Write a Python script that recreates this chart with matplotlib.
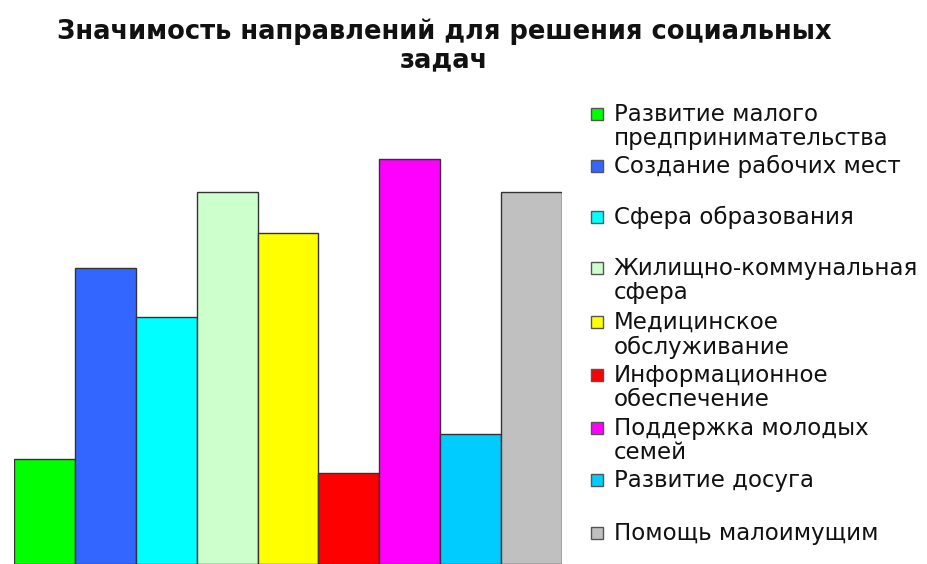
import matplotlib
matplotlib.use("Agg")
import matplotlib.pyplot as plt
from matplotlib.patches import Rectangle

# data (relative importance)
categories = [
    "Развитие малого\nпредпринимательства",
    "Создание рабочих мест",
    "Сфера образования",
    "Жилищно-коммунальная\nсфера",
    "Медицинское\nобслуживание",
    "Информационное\nобеспечение",
    "Поддержка молодых\nсемей",
    "Развитие досуга",
    "Помощь малоимущим",
]
values = [10.5, 29.6, 24.7, 37.2, 33.1, 9.1, 40.5, 13.0, 37.2]
colors = ["#00FF00", "#3366FF", "#00FFFF", "#CCFFCC", "#FFFF00",
          "#FF0000", "#FF00FF", "#00CCFF", "#C0C0C0"]
title = "Значимость направлений для решения социальных\nзадач"

W, H = 928, 564
fig = plt.figure(figsize=(W / 100, H / 100), dpi=100)

# axes spans bar area, bottom cropped at figure edge
ax = fig.add_axes([14 / W, 0, 548 / W, 424 / H])
x = range(len(values))
ax.bar(x, values, width=1.0, color=colors, edgecolor="#333333", linewidth=1.0)
ax.set_xlim(-0.5, len(values) - 0.5)
ax.set_ylim(0, 42.4)
ax.axis("off")

fig.text(444 / W, 1 - 46 / H, title, ha="center", va="center",
         fontsize=18.5, fontweight="bold", family="DejaVu Sans", linespacing=1.1,
         color="#111111")

# legend placed by hand to mimic the Excel layout
legend_y = [114, 166, 217, 268, 322, 375, 428, 480, 533]
for lab, col, yp in zip(categories, colors, legend_y):
    fig.patches.append(Rectangle((591 / W, 1 - (yp + 6) / H), 12 / W, 12 / H,
                                 transform=fig.transFigure, facecolor=col,
                                 edgecolor="#555555", linewidth=1.0))
    fig.text(614 / W, 1 - (yp - 11) / H, lab, ha="left", va="top",
             fontsize=16.5, family="DejaVu Sans", linespacing=1.08, color="#111111")

fig.savefig("out.png", dpi=100)
